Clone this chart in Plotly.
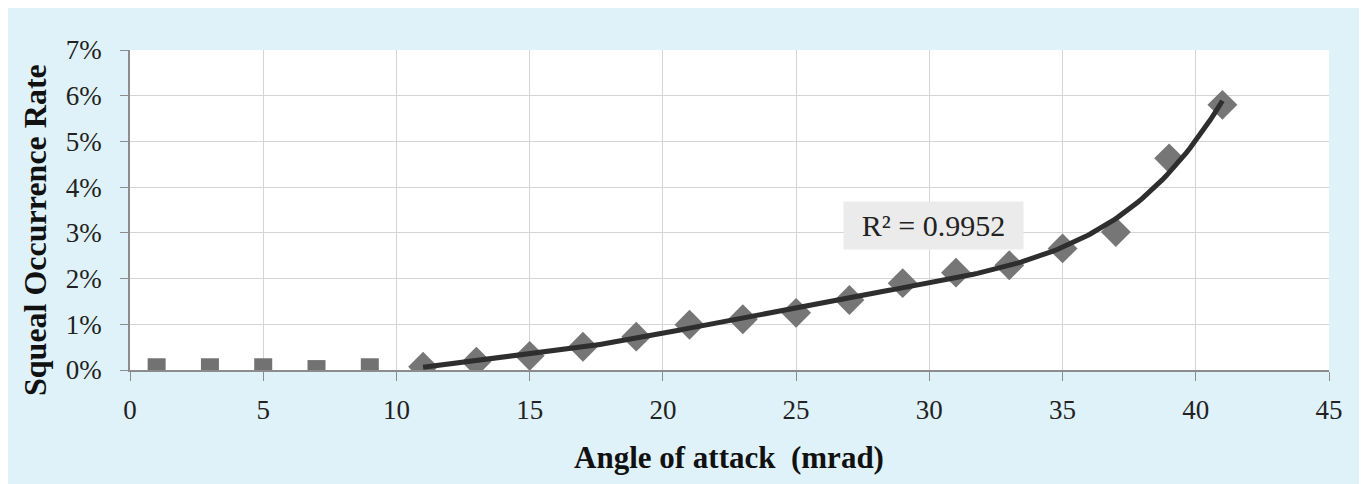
import numpy as np
import plotly.graph_objects as go

# Data (x = angle of attack in mrad, y = squeal occurrence rate)
low_angle = [1, 3, 5, 7, 9]
low_rate = [0.0006, 0.0006, 0.0006, 0.0002, 0.0006]

angle = [11, 13, 15, 17, 19, 21, 23, 25, 27, 29, 31, 33, 35, 37, 39, 41]
rate = [0.0007, 0.0018, 0.0031, 0.0051, 0.0073, 0.0099, 0.0111, 0.0125,
        0.0153, 0.0190, 0.0213, 0.0229, 0.0266, 0.0302, 0.0463, 0.0580]

fit_order = 5
r2_label = "R² = 0.9952"
x_ticks = [0, 5, 10, 15, 20, 25, 30, 35, 40, 45]

# Polynomial trendline fitted to the diamond series
coef = np.polyfit(angle, rate, fit_order)
xt = np.linspace(min(angle), max(angle), 200)
yt = np.polyval(coef, xt)

FONT = "Liberation Serif"
# the page body adds an 8 px offset, so the figure is 8 px smaller than the window
W, H = 1359, 476
L, R, T, B = 122, 38, 42, 114
pw, ph = W - L - R, H - T - B


def px_x(px):
    return (px - 8 - L) / pw


def px_y(py):
    return (H - B - (py - 8)) / ph


fig = go.Figure()
fig.add_trace(go.Scatter(x=low_angle, y=low_rate, mode="markers",
                         marker=dict(symbol="square", size=18, color="#727272"),
                         showlegend=False))
fig.add_trace(go.Scatter(x=angle, y=rate, mode="markers",
                         marker=dict(symbol="diamond", size=23, color="#767676"),
                         showlegend=False))
fig.add_trace(go.Scatter(x=xt, y=yt, mode="lines",
                         line=dict(color="#2e2e2e", width=5),
                         showlegend=False))

fig.add_annotation(x=30.15, y=0.0317, xref="x", yref="y", text=r2_label,
                   showarrow=False, bgcolor="#ebebeb", width=177, height=45,
                   xanchor="center", yanchor="middle",
                   font=dict(family=FONT, size=30, color="#222222"))

fig.add_annotation(x=px_x(35), y=px_y(230), xref="paper", yref="paper",
                   text="Squeal Occurrence Rate", textangle=-90, showarrow=False,
                   xanchor="center", yanchor="middle",
                   font=dict(family=FONT, size=32, color="#111111", weight="bold"))
fig.add_annotation(x=px_x(729), y=px_y(457), xref="paper", yref="paper",
                   text="Angle of attack&nbsp;&nbsp;(mrad)", showarrow=False,
                   xanchor="center", yanchor="middle",
                   font=dict(family=FONT, size=31, color="#111111", weight="bold"))

fig.update_layout(
    width=W, height=H,
    margin=dict(l=L, r=R, t=T, b=B, pad=0),
    paper_bgcolor="#e0f2f9", plot_bgcolor="white",
    showlegend=False,
)
fig.update_xaxes(range=[0, 45], tickvals=x_ticks, showgrid=True, gridcolor="#d4d4d4",
                 gridwidth=1, showline=True, linecolor="#8c8c8c", linewidth=1.5,
                 ticks="outside", ticklen=9, tickcolor="#8c8c8c", zeroline=False,
                 ticklabelstandoff=6,
                 tickfont=dict(family=FONT, size=27, color="#222222"))
fig.update_yaxes(range=[0, 0.07], dtick=0.01, tickformat=".0%", showgrid=True,
                 gridcolor="#d4d4d4", gridwidth=1, showline=True, linecolor="#8c8c8c",
                 linewidth=1.5, ticks="outside", ticklen=8, tickcolor="#8c8c8c",
                 zeroline=False, ticklabelstandoff=13,
                 tickfont=dict(family=FONT, size=27, color="#222222"))

fig.write_html("out.html")
